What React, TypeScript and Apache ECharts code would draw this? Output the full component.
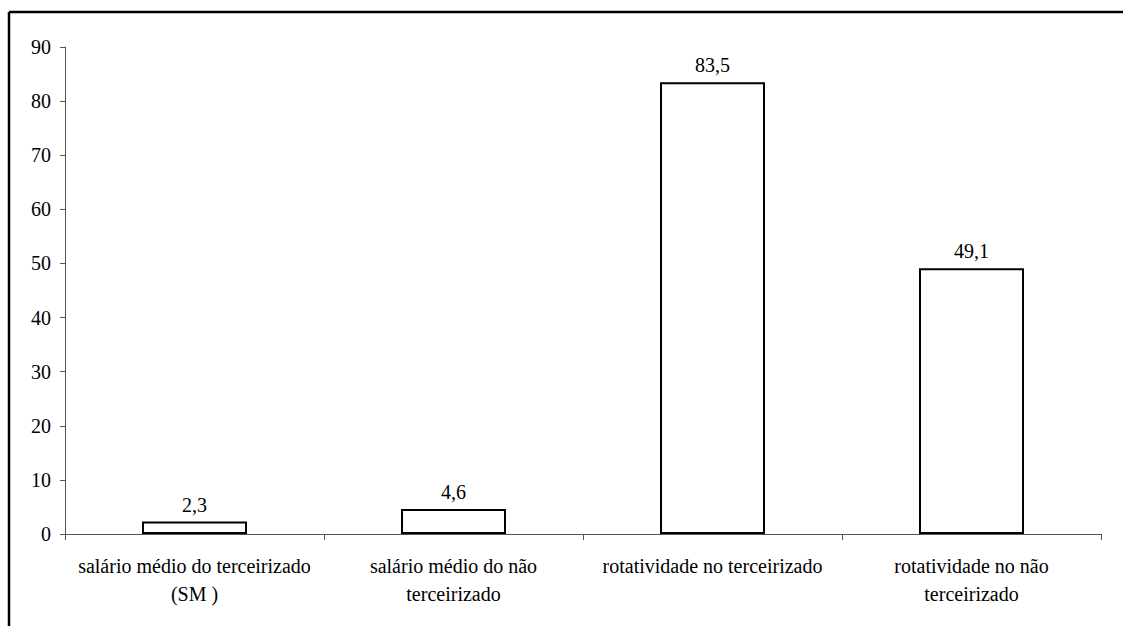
import React, { useEffect, useRef } from "react";
import * as echarts from "echarts";

const categories = [
  "salário médio do terceirizado\n(SM )",
  "salário médio do não\nterceirizado",
  "rotatividade no terceirizado",
  "rotatividade no não\nterceirizado",
];
const values = [2.3, 4.6, 83.5, 49.1];
const valueLabels = ["2,3", "4,6", "83,5", "49,1"];

const FONT = "Liberation Serif";

export default function App() {
  const ref = useRef<HTMLDivElement>(null);
  useEffect(() => {
    if (!ref.current) return;
    const chart = echarts.init(ref.current, null, { renderer: "svg" });
    chart.setOption({
      animation: false,
      backgroundColor: "#fff",
      textStyle: { fontFamily: FONT },
      grid: { left: 65, right: 22, top: 47, bottom: 92, containLabel: false },
      xAxis: {
        type: "category",
        data: categories,
        axisLine: { lineStyle: { color: "#555", width: 1 } },
        axisTick: { show: true, length: 6, lineStyle: { color: "#555" } },
        axisLabel: {
          color: "#000",
          fontFamily: FONT,
          fontSize: 20,
          lineHeight: 28,
          margin: 18,
          interval: 0,
        },
      },
      yAxis: {
        type: "value",
        min: 0,
        max: 90,
        interval: 10,
        splitLine: { show: false },
        axisLine: { show: true, lineStyle: { color: "#555", width: 1 } },
        axisTick: { show: true, length: 5, lineStyle: { color: "#555" } },
        axisLabel: {
          color: "#000",
          fontFamily: FONT,
          fontSize: 20,
          margin: 14,
        },
      },
      series: [
        {
          type: "bar",
          data: values,
          barWidth: 105,
          itemStyle: { color: "#fff", borderColor: "#000", borderWidth: 2 },
          label: {
            show: true,
            position: "top",
            distance: 7,
            color: "#000",
            fontFamily: FONT,
            fontSize: 20,
            formatter: (p: any) => valueLabels[p.dataIndex],
          },
        },
      ],
      graphic: [
        { type: "line", shape: { x1: 9, y1: 12, x2: 1123, y2: 12 }, style: { stroke: "#000", lineWidth: 2.5 } },
        { type: "line", shape: { x1: 9, y1: 12, x2: 9, y2: 626 }, style: { stroke: "#000", lineWidth: 2.5 } },
      ],
    });
    return () => chart.dispose();
  }, []);
  return (
    <div
      ref={ref}
      style={{ position: "absolute", left: 0, top: 0, width: 1123, height: 626 }}
    />
  );
}
